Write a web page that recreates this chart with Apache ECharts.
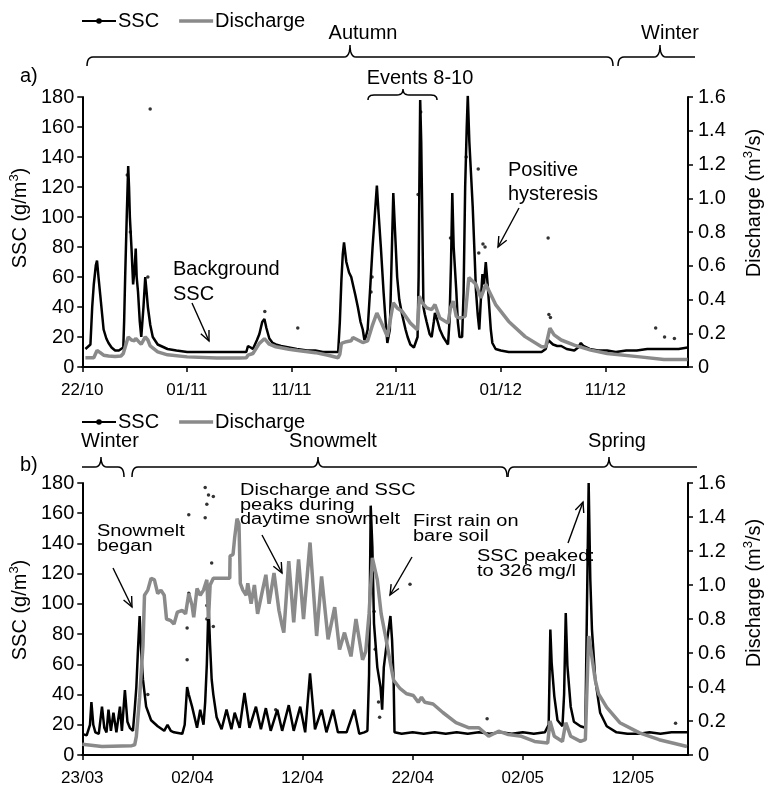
<!DOCTYPE html>
<html>
<head>
<meta charset="utf-8">
<script src="https://cdn.jsdelivr.net/npm/echarts@6/dist/echarts.min.js"></script>
<style>html,body{margin:0;padding:0;background:#fff;}#c{width:772px;height:787px;}</style>
</head>
<body>
<div id="c"></div>
<script>
// ---------- tick labels ----------
const xTicksA = ['22/10', '01/11', '11/11', '21/11', '01/12', '11/12'];
const xTicksB = ['23/03', '02/04', '12/04', '22/04', '02/05', '12/05'];
const xMaxA = 57.9;   // days after 22/10 shown
const xMaxB = 55.0;   // days after 23/03 shown

// ---------- panel a: SSC (g/m3), [day since 22/10, value] ----------
const sscA = [[0.3,12],[0.47,12],[0.78,15],[0.95,40],[1.1,55],[1.3,68],[1.41,71],[1.55,60],[1.72,48],[1.9,35],[2.04,25],[2.3,19],[2.51,16],[2.8,13],[3.14,11],[3.5,11],[3.92,13],[4.0,30],[4.1,60],[4.25,100],[4.39,134],[4.47,120],[4.55,100],[4.7,80],[4.86,55],[5.0,65],[5.11,79],[5.2,60],[5.33,50],[5.5,30],[5.64,20],[5.85,40],[6.02,60],[6.15,50],[6.27,40],[6.5,28],[6.74,20],[7.21,15],[8.15,12],[9.0,11],[10.03,10],[11.5,10],[12.86,10],[14.0,10],[15.0,10],[15.68,10],[15.84,14],[16.1,13],[16.31,12],[16.7,18],[16.93,22],[17.2,30],[17.41,32],[17.6,26],[17.88,19],[18.2,16],[18.5,15],[19.0,14],[19.75,13],[20.5,12],[21.5,11],[22.27,11],[23.0,10],[23.8,10],[24.46,10],[24.62,30],[24.77,58],[24.9,75],[25.02,83],[25.24,70],[25.5,63],[25.71,60],[25.87,55],[26.1,48],[26.34,40],[26.6,30],[26.81,25],[26.97,18],[27.1,20],[27.28,25],[27.5,50],[27.75,80],[27.95,100],[28.16,121],[28.3,105],[28.54,80],[28.8,50],[29.0,30],[29.16,16],[29.4,25],[29.6,80],[29.73,116],[29.9,90],[30.1,60],[30.3,45],[30.57,35],[30.9,25],[31.1,20],[31.36,15],[31.7,13],[32.05,20],[32.15,60],[32.22,120],[32.3,178],[32.4,150],[32.5,100],[32.61,40],[32.75,35],[32.92,30],[33.2,22],[33.4,20],[33.6,30],[33.71,36],[33.9,32],[34.18,25],[34.5,20],[34.96,15],[35.1,30],[35.25,70],[35.37,116],[35.5,80],[35.75,51],[35.9,30],[36.06,20],[36.31,20],[36.45,50],[36.6,120],[36.75,160],[36.85,181],[37.0,150],[37.15,130],[37.32,107],[37.5,75],[37.63,51],[37.8,35],[37.95,25],[38.1,45],[38.25,62],[38.4,55],[38.57,70],[38.75,55],[38.9,40],[39.05,25],[39.2,16],[39.51,12],[40.0,11],[40.76,10],[41.5,10],[42.33,10],[43.2,10],[43.9,10],[44.3,12],[44.53,18],[44.7,17],[45.0,15],[45.4,14],[45.78,14],[46.3,12],[47.03,11],[47.4,13],[47.66,16],[47.9,14],[48.5,12],[49.3,11],[50.17,11],[51,10],[52,11],[53,11],[54,12],[55,12],[56,12],[57,12],[57.86,13]];
const sscAScatter = [[4.3,128],[4.6,90],[6.27,60],[6.49,172],[17.45,37],[20.6,26],[27.6,50],[27.7,60],[32.1,115],[32.35,170],[35.2,86],[36.7,140],[37.85,132],[37.9,76],[38.3,82],[38.5,80],[44.53,86],[44.6,35],[44.75,33],[54.81,26],[55.66,20],[56.6,19]];

// ---------- panel a: discharge (m3/s) ----------
const qA = [[0.3,0.055],[1.1,0.055],[1.41,0.098],[1.72,0.085],[2.04,0.07],[2.51,0.065],[3.14,0.062],[3.7,0.065],[3.92,0.08],[4.39,0.178],[4.7,0.16],[5.0,0.155],[5.11,0.17],[5.4,0.15],[5.64,0.135],[6.02,0.178],[6.27,0.16],[6.49,0.125],[7.21,0.09],[8.15,0.072],[10.03,0.06],[12.86,0.053],[15.0,0.053],[15.68,0.055],[15.84,0.07],[16.31,0.08],[16.93,0.14],[17.41,0.168],[17.88,0.135],[18.5,0.12],[19.75,0.105],[20.6,0.098],[22.27,0.085],[23.5,0.07],[24.46,0.055],[24.62,0.075],[24.77,0.14],[25.24,0.15],[25.71,0.155],[25.87,0.175],[26.34,0.16],[26.81,0.145],[27.0,0.14],[27.28,0.155],[27.75,0.25],[28.16,0.32],[28.54,0.27],[29.16,0.18],[29.5,0.3],[29.73,0.38],[30.1,0.35],[30.57,0.33],[31.36,0.26],[32.05,0.22],[32.22,0.42],[32.5,0.38],[32.92,0.35],[33.4,0.34],[33.71,0.37],[34.18,0.29],[34.96,0.26],[35.2,0.35],[35.45,0.39],[35.75,0.3],[36.06,0.29],[36.6,0.3],[36.95,0.53],[37.3,0.51],[37.63,0.49],[38.1,0.41],[38.57,0.49],[39.2,0.41],[39.51,0.37],[40.76,0.27],[42.33,0.18],[43.9,0.12],[44.3,0.12],[44.7,0.23],[45.1,0.19],[45.78,0.16],[47.03,0.13],[48.6,0.10],[50.17,0.08],[53.3,0.06],[55.6,0.045],[57.86,0.045]];

// ---------- panel b: SSC (g/m3), [day since 23/03, value] ----------
const sscB = [[0,14],[0.4,13],[0.7,20],[0.83,35],[1.0,20],[1.19,15],[1.5,14],[1.79,32],[2.0,18],[2.2,15],[2.38,30],[2.6,16],[2.83,28],[3.1,15],[3.42,32],[3.6,16],[3.87,43],[4.1,22],[4.32,18],[4.6,16],[4.76,30],[4.91,45],[5.06,70],[5.21,92],[5.36,67],[5.51,50],[5.8,32],[6.25,23],[6.85,19],[7.44,16],[7.74,20],[8.04,16],[8.33,15],[9.08,14],[9.3,20],[9.52,45],[9.67,40],[9.97,32],[10.42,18],[10.71,30],[11.01,20],[11.16,35],[11.31,60],[11.46,100],[11.61,72],[11.75,50],[11.90,40],[12.20,25],[12.65,17],[13.10,30],[13.54,17],[13.84,28],[14.29,18],[14.73,41],[15.18,18],[15.77,32],[16.22,17],[16.67,31],[17.11,16],[17.71,30],[18.15,16],[18.75,33],[19.20,16],[19.79,32],[20.24,15],[20.68,54],[21.13,17],[21.73,30],[22.17,15],[22.77,30],[23.21,15],[24.0,15],[24.70,30],[25.15,14],[25.6,15],[25.89,16],[26.04,53],[26.19,165],[26.34,138],[26.49,87],[26.79,58],[27.08,45],[27.23,30],[27.38,58],[27.68,76],[27.98,92],[28.13,76],[28.27,50],[28.35,15],[29,14],[30,15],[31,14],[32,15],[33,14],[34,15],[35,14],[36,15],[37,14],[38,15],[39,14],[40,15],[41,14],[42,15],[42.35,20],[42.50,83],[42.62,61],[42.86,39],[43.15,23],[43.60,19],[43.75,40],[43.90,94],[44.05,59],[44.35,32],[44.64,22],[45.24,19],[45.68,18],[45.83,100],[45.98,180],[46.13,116],[46.28,83],[46.58,50],[47.02,28],[47.62,19],[48.51,15],[49.5,14],[50.60,14],[51.5,15],[52.5,14],[53.5,15],[54.91,15]];
const sscBScatter = [[5.95,40],[9.52,84],[9.52,63],[9.67,159],[9.67,107],[11.16,177],[11.16,157],[11.31,166],[11.31,99],[11.31,90],[11.46,172],[11.75,127],[11.90,171],[11.90,85],[17.56,30],[26.5,95],[26.6,70],[26.9,35],[27.0,25],[29.76,113],[36.76,24],[53.87,21]];

// ---------- panel b: discharge (m3/s) ----------
const qB = [[0,0.063],[1.79,0.05],[4.5,0.055],[4.76,0.06],[4.91,0.11],[5.21,0.34],[5.51,0.64],[5.65,0.94],[5.95,0.97],[6.25,1.04],[6.55,1.03],[6.85,0.95],[7.14,0.97],[7.44,0.94],[7.65,0.80],[8.04,0.79],[8.33,0.77],[8.63,0.84],[9.08,0.85],[9.38,0.83],[9.67,0.95],[9.97,0.88],[10.12,0.81],[10.42,0.98],[10.71,0.94],[11.01,0.97],[11.31,1.03],[11.46,0.80],[11.61,1.00],[11.90,1.04],[13.39,1.04],[13.42,1.17],[13.69,1.18],[13.84,1.28],[14.05,1.39],[14.23,1.36],[14.35,1.01],[14.58,0.97],[14.88,0.94],[15.03,1.01],[15.33,0.89],[15.63,1.0],[15.92,0.83],[16.37,0.97],[16.67,1.06],[16.96,0.89],[17.41,1.07],[17.86,0.85],[18.15,0.76],[18.30,0.72],[18.75,1.14],[19.20,0.78],[19.64,1.15],[20.09,0.80],[20.68,1.25],[21.28,0.70],[21.73,1.05],[22.32,0.68],[22.92,0.87],[23.36,0.62],[23.81,0.72],[24.40,0.58],[24.85,0.80],[25.45,0.56],[25.74,0.61],[26.04,0.83],[26.34,1.16],[26.79,1.03],[27.14,0.83],[27.53,0.70],[27.98,0.54],[28.27,0.44],[28.87,0.39],[29.46,0.36],[30.06,0.35],[30.51,0.31],[30.80,0.34],[31.10,0.31],[31.85,0.30],[32.74,0.25],[33.93,0.19],[35.12,0.16],[36.01,0.16],[36.90,0.11],[37.80,0.14],[38.69,0.12],[39.88,0.11],[41.07,0.08],[42.26,0.07],[42.47,0.20],[42.86,0.11],[43.60,0.08],[43.90,0.19],[44.35,0.11],[45.24,0.08],[45.68,0.09],[45.98,0.70],[46.13,0.64],[46.58,0.44],[46.88,0.36],[47.62,0.28],[48.81,0.19],[50.60,0.13],[52.38,0.09],[54.91,0.05]];

// ---------- drawing ----------
const FONT = '"Liberation Sans", Arial, sans-serif';
const chart = echarts.init(document.getElementById('c'), null, {renderer: 'canvas'});

function xAxisCfg(gridIndex, max, labels) {
  return {
    type: 'value', gridIndex, min: 0, max, interval: 10,
    axisLine: {lineStyle: {color: '#000', width: 2}},
    axisTick: {show: true, length: 5, lineStyle: {color: '#000', width: 1.5}, customValues: labels.map((_, i) => i * 10)},
    axisLabel: {color: '#000', fontFamily: FONT, fontSize: 17, margin: 15,
      customValues: labels.map((_, i) => i * 10),
      formatter: v => labels[Math.round(v / 10)] || ''},
    splitLine: {show: false}
  };
}
const richName = {
  a: {fontSize: 20, fontFamily: FONT, color: '#000', lineHeight: 24},
  s: {fontSize: 13, fontFamily: FONT, color: '#000', verticalAlign: 'top', lineHeight: 14}
};
function yLeft(gridIndex, padUp) {
  return {
    type: 'value', gridIndex, min: 0, max: 180, interval: 20, position: 'left',
    name: '{a|SSC (g/m}{s|3}{a|)}', nameLocation: 'middle', nameGap: 46, nameRotate: 90,
    nameTextStyle: {rich: richName, padding: [0, 0, 0, padUp]},
    axisLine: {show: true, lineStyle: {color: '#000', width: 2}},
    axisTick: {show: true, length: 5, lineStyle: {color: '#000', width: 1.5}},
    axisLabel: {color: '#000', fontFamily: FONT, fontSize: 20, margin: 8},
    splitLine: {show: false}
  };
}
function yRight(gridIndex, padUp) {
  return {
    type: 'value', gridIndex, min: 0, max: 1.6, interval: 0.2, position: 'right',
    name: '{a|Discharge (m}{s|3}{a|/s)}', nameLocation: 'middle', nameGap: 54, nameRotate: 90,
    nameTextStyle: {rich: richName, padding: [0, 0, 0, padUp]},
    axisLine: {show: true, lineStyle: {color: '#000', width: 2}},
    axisTick: {show: true, length: 5, lineStyle: {color: '#000', width: 1.5}},
    axisLabel: {color: '#000', fontFamily: FONT, fontSize: 20, margin: 10,
      formatter: v => v === 0 ? '0' : v.toFixed(1)},
    splitLine: {show: false}
  };
}
function sscLine(xi, yi, data) {
  return {name: 'SSC', type: 'line', xAxisIndex: xi, yAxisIndex: yi, data,
    symbol: 'circle', symbolSize: 5, showSymbol: false, smooth: false,
    lineStyle: {color: '#000', width: 2.5}, itemStyle: {color: '#000'}, z: 2, silent: true};
}
function sscDots(xi, yi, data) {
  return {name: 'SSC', type: 'scatter', xAxisIndex: xi, yAxisIndex: yi, data,
    symbolSize: 3.5, itemStyle: {color: '#000'}, z: 2, silent: true};
}
function qLine(xi, yi, data) {
  return {name: 'Discharge', type: 'line', xAxisIndex: xi, yAxisIndex: yi, data,
    symbol: 'none', lineStyle: {color: '#8a8a8a', width: 3.5}, itemStyle: {color: '#8a8a8a'}, z: 3, silent: true};
}

// annotation helpers (positions in pixels)
function quad(p0, c, p1) {
  const pts = [];
  for (let i = 0; i <= 6; i++) {
    const t = i / 6, u = 1 - t;
    pts.push([u * u * p0[0] + 2 * u * t * c[0] + t * t * p1[0], u * u * p0[1] + 2 * u * t * c[1] + t * t * p1[1]]);
  }
  return pts;
}
function brace(x1, x2, xt, y, dy, tip, curlL, curlR) {
  const r = 6;
  let pts = curlL ? quad([x1, y + dy], [x1, y], [x1 + r, y]) : [[x1, y]];
  pts = pts.concat(quad([xt - r, y], [xt, y], [xt, y - tip]));
  pts = pts.concat(quad([xt, y - tip], [xt, y], [xt + r, y]));
  pts = pts.concat(curlR ? quad([x2 - r, y], [x2, y], [x2, y + dy]) : [[x2, y]]);
  return {type: 'polyline', shape: {points: pts}, style: {fill: null, stroke: '#000', lineWidth: 1.5}};
}
function arrow(x1, y1, x2, y2) {
  const a = Math.atan2(y2 - y1, x2 - x1), L = 11, w = 0.42;
  return [
    {type: 'line', shape: {x1, y1, x2, y2}, style: {stroke: '#000', lineWidth: 1.4}},
    {type: 'polyline', shape: {points: [[x2 - L * Math.cos(a - w), y2 - L * Math.sin(a - w)], [x2, y2], [x2 - L * Math.cos(a + w), y2 - L * Math.sin(a + w)]]},
      style: {stroke: '#000', lineWidth: 1.4, fill: null}}
  ];
}
function label(text, x, y, opts) {
  opts = opts || {};
  return {type: 'text', x, y, scaleY: opts.sy || 1,
    style: {text, fill: '#000', font: (opts.size || 20) + 'px ' + FONT,
      textAlign: opts.align || 'left', textVerticalAlign: opts.va || 'top', lineHeight: opts.lh || 24}};
}

const graphics = [
  // panel a
  brace(87, 613, 350, 57, 9, 12, true, true),
  brace(618, 695, 660, 57, 9, 12, true, false),
  brace(368, 437, 403, 95, 5, 6, true, true),
  label('Autumn', 363, 33, {align: 'center', va: 'middle'}),
  label('Winter', 670, 33, {align: 'center', va: 'middle'}),
  label('Events 8-10', 420, 78, {align: 'center', va: 'middle'}),
  label('a)', 20, 76, {va: 'middle'}),
  label('Background\nSSC', 173, 257, {lh: 25}),
  ...arrow(192, 303, 209, 341),
  label('Positive\nhysteresis', 508, 158, {lh: 24}),
  ...arrow(519, 208, 498, 247),
  // panel b
  brace(82, 124, 101, 467, 10, 10, false, true),
  brace(132, 507, 318, 467, 10, 10, true, true),
  brace(508, 697, 609, 467, 10, 10, true, false),
  label('Winter', 110, 441, {align: 'center', va: 'middle'}),
  label('Snowmelt', 333, 441, {align: 'center', va: 'middle'}),
  label('Spring', 617, 441, {align: 'center', va: 'middle'}),
  label('b)', 20, 465, {va: 'middle'}),
  label('Snowmelt\nbegan', 97, 524, {sy: 0.78, lh: 19}),
  ...arrow(113, 568, 132, 607),
  label('Discharge and SSC\npeaks during\ndaytime snowmelt', 240, 483, {sy: 0.78, lh: 19}),
  ...arrow(262, 535, 282, 573),
  label('First rain on\nbare soil', 413, 514, {sy: 0.78, lh: 19}),
  ...arrow(412, 557, 390, 595),
  label('SSC peaked:\nto 326 mg/l', 477, 549, {sy: 0.78, lh: 19}),
  ...arrow(568, 543, 583, 502)
];

const legendCfg = top => ({
  left: 76, top, itemWidth: 34, itemHeight: 7, itemGap: 20,
  data: [{name: 'SSC'}, {name: 'Discharge', icon: 'path://M0,0H34V3.5H0Z', itemStyle: {color: '#8a8a8a'}}],
  textStyle: {fontSize: 20, fontFamily: FONT, color: '#000', padding: [0, 0, 0, -3]}, selectedMode: false
});

chart.setOption({
  animation: false,
  backgroundColor: '#fff',
  legend: [legendCfg(6), legendCfg(407)],
  grid: [
    {left: 80, right: 76, top: 97, height: 270},
    {left: 80, right: 76, top: 483, height: 272}
  ],
  xAxis: [xAxisCfg(0, xMaxA, xTicksA), xAxisCfg(1, xMaxB, xTicksB)],
  yAxis: [yLeft(0, 28), yRight(0, 58), yLeft(1, 18), yRight(1, 52)],
  series: [
    sscLine(0, 0, sscA), sscDots(0, 0, sscAScatter), qLine(0, 1, qA),
    sscLine(1, 2, sscB), sscDots(1, 2, sscBScatter), qLine(1, 3, qB)
  ],
  graphic: {elements: graphics}
});
</script>
</body>
</html>
